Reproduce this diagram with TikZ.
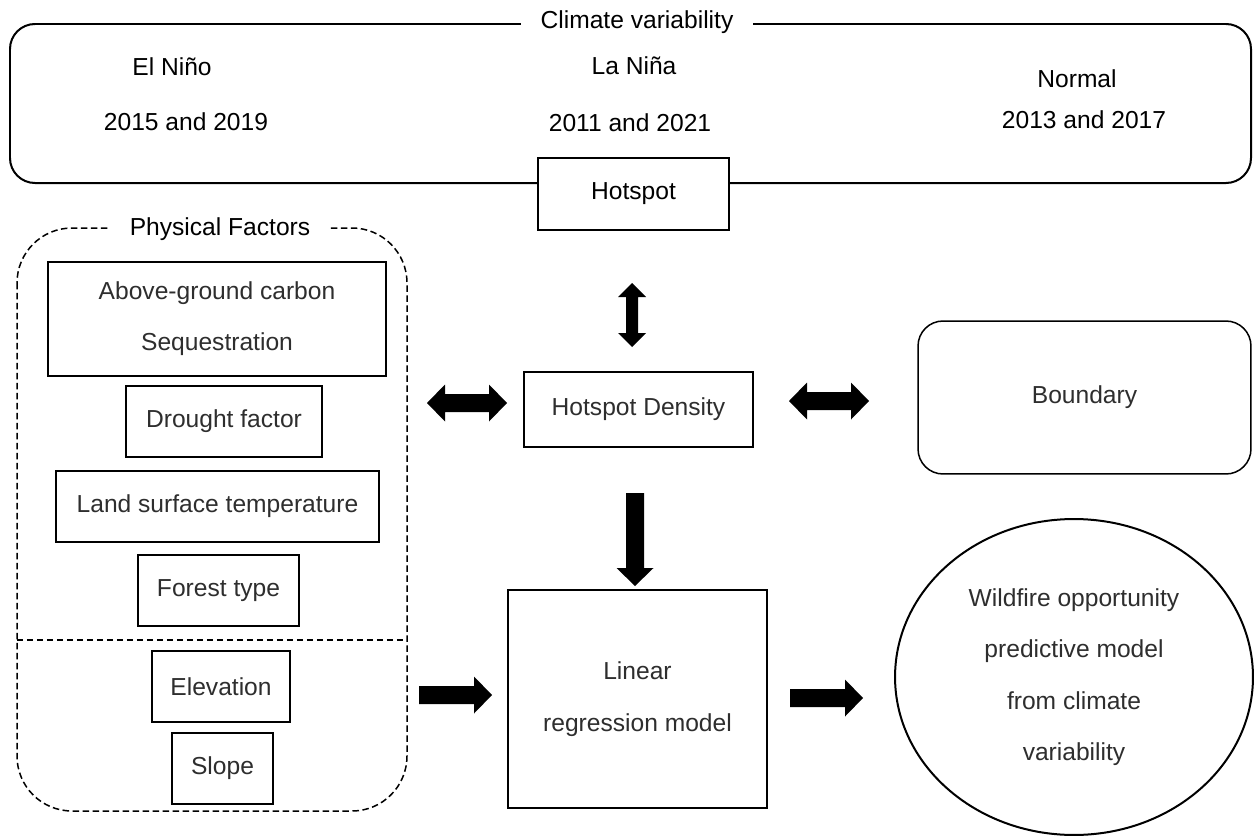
\documentclass[tikz,border=0pt]{standalone}
\usepackage{fontspec}
\setmainfont{Liberation Sans}
\usetikzlibrary{shapes.geometric}
\newcommand{\myRarrow}[3]{% x1, x2, y : right-pointing block arrow
  \fill (#1,#3-9) -- (#2-18,#3-9) -- (#2-18,#3-18.5) -- (#2,#3) -- (#2-18,#3+18.5) -- (#2-18,#3+9) -- (#1,#3+9) -- cycle;}
\newcommand{\myHdbl}[3]{% x1, x2, y : horizontal double block arrow
  \fill (#1,#3) -- (#1+18,#3-18.5) -- (#1+18,#3-9) -- (#2-18,#3-9) -- (#2-18,#3-18.5) -- (#2,#3) -- (#2-18,#3+18.5) -- (#2-18,#3+9) -- (#1+18,#3+9) -- (#1+18,#3+18.5) -- cycle;}
\begin{document}
\begin{tikzpicture}[x=0.02cm,y=-0.02cm,
  every node/.style={font=\fontsize{14}{17}\selectfont},
  head/.style={text=black},
  soft/.style={text=black!82},
  plainbox/.style={draw, line width=0.03cm, fill=white, inner sep=0pt, text=black!82},
  pfline/.style={line width=0.03cm, dash pattern=on 0.13cm off 0.07cm}
]
\useasboundingbox (0,0) rectangle (1254,835);

% Climate variability frame
\draw[line width=0.04cm, rounded corners=0.5cm] (10,24) rectangle (1251,183);
\node[head, fill=white, inner sep=0pt, minimum width=4.64cm, minimum height=0.6cm] (cvtitle) at (637,22) {Climate variability};
\node[head] (elnino) at (172,67) {El Niño};
\node[head] (elyears) at (186,122) {2015 and 2019};
\node[head] (lanina) at (634,66) {La Niña};
\node[head] (layears) at (630,123) {2011 and 2021};
\node[head] (normal) at (1077,79) {Normal};
\node[head] (noyears) at (1084,120) {2013 and 2017};
\node[plainbox, text=black, minimum width=3.82cm, minimum height=1.44cm] (hotspot) at (633.5,194) {Hotspot};

% Physical factors frame
\draw[pfline, rounded corners=1.1cm] (17,228) rectangle (407,811);
\draw[pfline] (17,640) -- (407,640);
\node[head, fill=white, inner sep=0pt, minimum width=4.4cm, minimum height=0.6cm] (pftitle) at (220,229) {Physical Factors};
\node[plainbox, align=center, font=\fontsize{14}{29}\selectfont, minimum width=6.76cm, minimum height=2.28cm] (ag) at (217,319) {Above-ground carbon\\Sequestration};
\node[plainbox, minimum width=3.92cm, minimum height=1.42cm] (dr) at (224,421.5) {Drought factor};
\node[plainbox, minimum width=6.46cm, minimum height=1.42cm] (ls) at (217.5,506.5) {Land surface temperature};
\node[plainbox, minimum width=3.22cm, minimum height=1.42cm] (ft) at (218.5,590.5) {Forest type};
\node[plainbox, minimum width=2.76cm, minimum height=1.42cm] (el) at (221,686.5) {Elevation};
\node[plainbox, minimum width=2.02cm, minimum height=1.42cm] (sl) at (222.5,768.5) {Slope};

% Central and right nodes
\node[plainbox, minimum width=4.58cm, minimum height=1.50cm] (hd) at (638.5,409.5) {Hotspot Density};
\node[plainbox, rounded corners=0.5cm, minimum width=6.66cm, minimum height=3.06cm] (bd) at (1084.5,397.5) {Boundary};
\node[plainbox, align=center, font=\fontsize{14}{30}\selectfont, minimum width=5.18cm, minimum height=4.36cm] (lr) at (637.5,699) {Linear\\regression model};
\node[plainbox, ellipse, line width=0.04cm, align=center, font=\fontsize{14}{29.3}\selectfont, minimum width=7.16cm, minimum height=6.32cm] (wf) at (1074,677) {Wildfire opportunity\\predictive model\\from climate\\variability};

% Block arrows
\fill (632,283) -- (646,297) -- (638,297) -- (638,333) -- (646,333) -- (632,347) -- (618,333) -- (626,333) -- (626,297) -- (618,297) -- cycle;
\myHdbl{427}{507}{403}
\myHdbl{789}{869}{401}
\fill (626,493) -- (644,493) -- (644,568) -- (653.5,568) -- (635,586) -- (616.5,568) -- (626,568) -- cycle;
\myRarrow{419}{492}{695}
\myRarrow{790}{863}{698}
\end{tikzpicture}
\end{document}
